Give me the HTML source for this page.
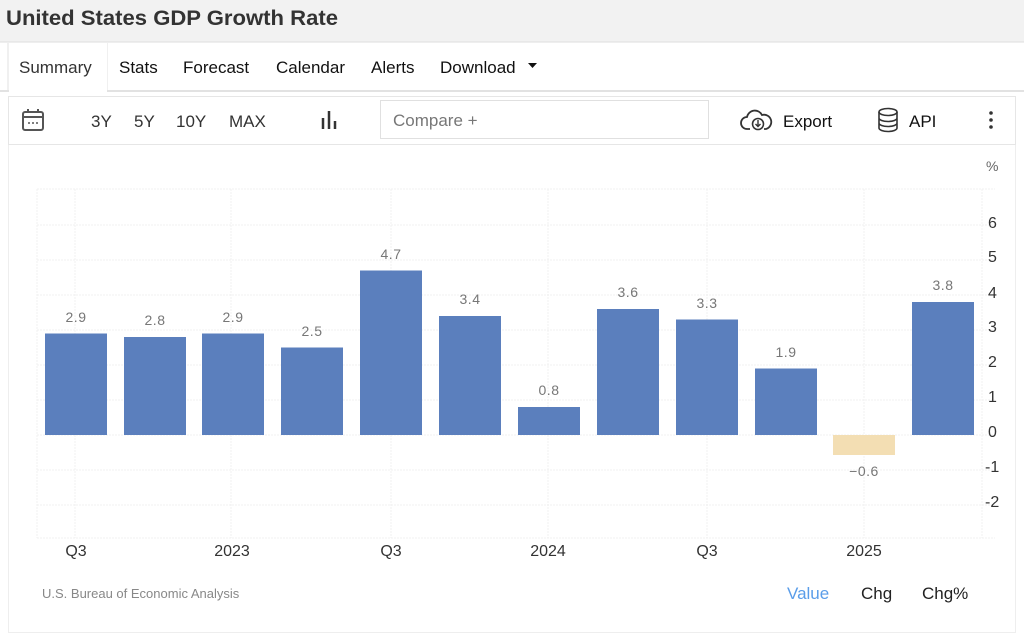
<!DOCTYPE html>
<html><head><meta charset="utf-8"><style>
body{margin:0;width:1024px;height:635px;background:#fff;font-family:"Liberation Sans",sans-serif;overflow:hidden;position:relative}
</style></head><body>
<svg width="1024" height="635" xmlns="http://www.w3.org/2000/svg" style="position:absolute;left:0;top:0;font-family:'Liberation Sans',sans-serif">
<rect x="0" y="0" width="1024" height="42" fill="#f2f2f2"/>
<line x1="0" y1="42" x2="1024" y2="42" stroke="#ddd"/>
<text x="6" y="25" font-size="21.5" font-weight="bold" fill="#333" textLength="332" lengthAdjust="spacingAndGlyphs">United States GDP Growth Rate</text>
<!-- tabs -->
<line x1="0" y1="91" x2="1024" y2="91" stroke="#e2e2e2" stroke-width="2"/>
<path d="M8 91 V43 M107 43 V91" stroke="#e2e2e2"/>
<rect x="9" y="43" width="98" height="50" fill="#fff"/>
<g font-size="17" fill="#111">
<text x="19" y="73" fill="#333">Summary</text>
<text x="119" y="73">Stats</text>
<text x="183" y="73">Forecast</text>
<text x="276" y="73">Calendar</text>
<text x="371" y="73">Alerts</text>
<text x="440" y="73">Download</text>
</g>
<path d="M528 63 h9 l-4.5 5z" fill="#111"/>
<!-- toolbar -->
<rect x="8.5" y="96.5" width="1007" height="48" fill="#fff" stroke="#e6e6e6"/>
<rect x="23" y="112" width="20" height="18" rx="2" fill="none" stroke="#555" stroke-width="2"/>
<line x1="23" y1="117" x2="43" y2="117" stroke="#555" stroke-width="2"/>
<path d="M28 109v4M38 109v4" stroke="#555" stroke-width="2"/>
<path d="M28 123h2M32 123h2M36 123h2" stroke="#555" stroke-width="1.5"/>
<g font-size="17" fill="#333">
<text x="91" y="127">3Y</text><text x="134" y="127">5Y</text><text x="176" y="127">10Y</text><text x="229" y="127">MAX</text>
</g>
<path d="M323 118v11M329 111v18M335 121v8" stroke="#333" stroke-width="2.5"/>
<rect x="380.5" y="100.5" width="328" height="38" fill="#fff" stroke="#e0e0e0"/>
<text x="393" y="126" font-size="17" fill="#777">Compare +</text>
<path d="M750 129h-3a6 6 0 0 1 0-12a8 8 0 0 1 15-2a6 6 0 0 1 4 14h-2" fill="none" stroke="#333" stroke-width="1.8"/>
<circle cx="758" cy="124" r="5.5" fill="none" stroke="#333" stroke-width="1.6"/>
<path d="M758 120v6M755.5 124l2.5 2.5 2.5-2.5" fill="none" stroke="#333" stroke-width="1.4"/>
<text x="783" y="127" font-size="17" fill="#111">Export</text>
<ellipse cx="888" cy="112" rx="9" ry="3.5" fill="none" stroke="#333" stroke-width="1.6"/>
<path d="M879 112v16a9 3.5 0 0 0 18 0v-16M879 118a9 3.5 0 0 0 18 0M879 123a9 3.5 0 0 0 18 0" fill="none" stroke="#333" stroke-width="1.6"/>
<text x="909" y="127" font-size="17" fill="#111">API</text>
<circle cx="991" cy="113" r="1.8" fill="#333"/><circle cx="991" cy="120" r="1.8" fill="#333"/><circle cx="991" cy="127" r="1.8" fill="#333"/>
<!-- chart container -->
<path d="M8.5 145 V632.5 H1015.5 V145" fill="none" stroke="#eee"/>
<text x="986" y="171" font-size="14" fill="#666">%</text>
<!-- grid -->
<g stroke="#f0f0f0" stroke-dasharray="2,1">
<line x1="37" y1="189" x2="995" y2="189"/>
<line x1="37" y1="225" x2="995" y2="225"/>
<line x1="37" y1="260" x2="995" y2="260"/>
<line x1="37" y1="295" x2="995" y2="295"/>
<line x1="37" y1="330" x2="995" y2="330"/>
<line x1="37" y1="365" x2="995" y2="365"/>
<line x1="37" y1="400" x2="995" y2="400"/>
<line x1="37" y1="435" x2="995" y2="435"/>
<line x1="37" y1="470" x2="995" y2="470"/>
<line x1="37" y1="505" x2="995" y2="505"/>
<line x1="37" y1="538" x2="995" y2="538"/>
<line x1="37" y1="189" x2="37" y2="538"/>
<line x1="75" y1="189" x2="75" y2="538"/>
<line x1="231" y1="189" x2="231" y2="538"/>
<line x1="391" y1="189" x2="391" y2="538"/>
<line x1="548" y1="189" x2="548" y2="538"/>
<line x1="707" y1="189" x2="707" y2="538"/>
<line x1="864" y1="189" x2="864" y2="538"/>
<line x1="982" y1="189" x2="982" y2="538"/>
</g>
<!-- bars -->
<g fill="#5b7fbd">
<rect x="45" y="333.5" width="62" height="101.5"/>
<rect x="124" y="337" width="62" height="98"/>
<rect x="202" y="333.5" width="62" height="101.5"/>
<rect x="281" y="347.5" width="62" height="87.5"/>
<rect x="360" y="270.5" width="62" height="164.5"/>
<rect x="439" y="316" width="62" height="119"/>
<rect x="518" y="407" width="62" height="28"/>
<rect x="597" y="309" width="62" height="126"/>
<rect x="676" y="319.5" width="62" height="115.5"/>
<rect x="755" y="368.5" width="62" height="66.5"/>
<rect x="912" y="302" width="62" height="133"/>
</g>
<rect x="833" y="435" width="62" height="20" fill="#f3deb3"/>
<g font-size="14" fill="#777" text-anchor="middle" letter-spacing="0.5">
<text x="76" y="322">2.9</text><text x="155" y="325">2.8</text><text x="233" y="322">2.9</text>
<text x="312" y="336">2.5</text><text x="391" y="259">4.7</text><text x="470" y="304">3.4</text>
<text x="549" y="395">0.8</text><text x="628" y="297">3.6</text><text x="707" y="308">3.3</text>
<text x="786" y="357">1.9</text><text x="864" y="476">−0.6</text><text x="943" y="290">3.8</text>
</g>
<g font-size="16" fill="#333">
<text x="988" y="228">6</text><text x="988" y="262">5</text><text x="988" y="298">4</text>
<text x="988" y="332">3</text><text x="988" y="367">2</text><text x="988" y="402">1</text>
<text x="988" y="437">0</text><text x="985" y="472">-1</text><text x="985" y="507">-2</text>
</g>
<g font-size="16" fill="#333" text-anchor="middle">
<text x="76" y="556">Q3</text><text x="232" y="556">2023</text><text x="391" y="556">Q3</text>
<text x="548" y="556">2024</text><text x="707" y="556">Q3</text><text x="864" y="556">2025</text>
</g>
<text x="42" y="598" font-size="13" fill="#888">U.S. Bureau of Economic Analysis</text>
<text x="787" y="599" font-size="17" fill="#5a9de9">Value</text>
<text x="861" y="599" font-size="17" fill="#222">Chg</text>
<text x="922" y="599" font-size="17" fill="#222">Chg%</text>
</svg>
</body></html>
